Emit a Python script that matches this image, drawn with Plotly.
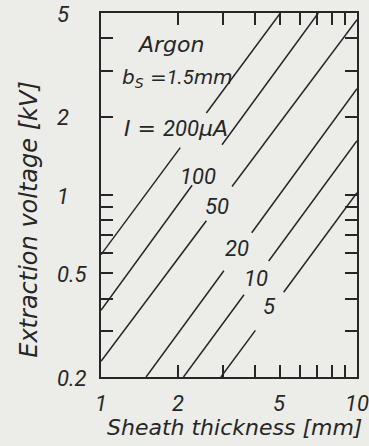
import numpy as np
import plotly.graph_objects as go

# Beam current of each characteristic line (µA)
currents = [200, 100, 50, 20, 10, 5]

# Each line is drawn in two pieces with a gap for its label.
# Lower piece: start/end (sheath thickness in mm, extraction voltage in kV)
lower_start_d = [1.00, 1.00, 1.00, 1.50, 2.10, 2.94]
lower_start_v = [0.59, 0.361, 0.23, 0.20, 0.20, 0.20]
lower_end_d = [2.04, 2.27, 2.58, 3.02, 3.62, 4.01]
lower_end_v = [1.52, 1.09, 0.796, 0.512, 0.414, 0.302]
# Upper piece
upper_start_d = [2.58, 2.97, 3.25, 3.88, 4.52, 5.17]
upper_start_v = [2.065, 1.56, 1.078, 0.716, 0.558, 0.423]
upper_end_d = [5.02, 7.06, 10.0, 10.0, 10.0, 10.0]
upper_end_v = [5.00, 5.00, 4.71, 2.56, 1.616, 1.02]

# Axis ticks
x_ticks = [1, 2, 3, 4, 5, 6, 7, 8, 9, 10]
x_labels = {1: "1", 2: "2", 5: "5", 10: "10"}
y_ticks = [0.2, 0.3, 0.4, 0.5, 0.6, 0.7, 0.8, 0.9, 1, 2, 3, 4, 5]
y_labels = {0.2: "0.2", 0.5: "0.5", 1: "1", 2: "2", 5: "5"}

# Where the current labels sit (thickness mm, voltage kV)
label_pos = {100: (2.40, 1.175), 50: (2.84, 0.90), 20: (3.40, 0.622),
             10: (4.02, 0.477), 5: (4.56, 0.3725)}

INK = "#262626"
BG = "#ecece9"
WORD_FONT = "DejaVu Sans"
NUM_FONT = "Liberation Sans Narrow, Roboto, Liberation Sans"

wfont = dict(family=WORD_FONT, size=22, color=INK, style="italic")
nfont = dict(family=NUM_FONT, size=22, color=INK, style="italic")


def narrow(s):
    return f'<span style="font-family:{NUM_FONT}">{s}</span>'


fig = go.Figure()
for i, cur in enumerate(currents):
    fig.add_trace(go.Scatter(
        x=[lower_start_d[i], lower_end_d[i], None, upper_start_d[i], upper_end_d[i]],
        y=[lower_start_v[i], lower_end_v[i], None, upper_start_v[i], upper_end_v[i]],
        mode="lines", line=dict(color=INK, width=1.5),
        showlegend=False, hoverinfo="skip", name=f"{cur} µA",
    ))

axis_common = dict(
    type="log", showline=True, linecolor=INK, linewidth=2, mirror="ticks",
    ticks="inside", ticklen=12, tickwidth=1.5, tickcolor=INK,
    showgrid=False, zeroline=False, showticklabels=False,
)
fig.update_xaxes(range=[0, 1], tickvals=x_ticks, **axis_common)
fig.update_yaxes(range=[np.log10(0.2), np.log10(5)], tickvals=y_ticks, **axis_common)

ann = []
for v, t in x_labels.items():
    ann.append(dict(x=np.log10(v), xref="x", y=0, yref="paper", yshift=-26,
                    text=t, showarrow=False, xanchor="center", yanchor="middle", font=nfont))
for v, t in y_labels.items():
    ann.append(dict(x=0, xref="paper", xshift=-46, y=np.log10(v), yref="y", yshift=-1,
                    text=t, showarrow=False, xanchor="left", yanchor="middle", font=nfont))

# Axis titles
ann.append(dict(x=0.5, xref="paper", xshift=5, y=0, yref="paper", yshift=-50,
                text="Sheath thickness [mm]", showarrow=False,
                xanchor="center", yanchor="middle", font=wfont))
ann.append(dict(x=0, xref="paper", xshift=-72, y=0.432, yref="paper",
                text="Extraction voltage [kV]", showarrow=False, textangle=-90,
                xanchor="center", yanchor="middle", font=dict(wfont, size=24)))

# Header text inside the plot
ann.append(dict(x=np.log10(1.36), xref="x", y=np.log10(3.78), yref="y",
                text="Argon", showarrow=False, xanchor="left", yanchor="middle", font=wfont))
ann.append(dict(x=np.log10(1.19), xref="x", y=np.log10(2.82), yref="y",
                text=f"b<sub>S</sub> ={narrow('1.5')}mm", showarrow=False, xanchor="left",
                yanchor="middle", font=dict(wfont, size=20)))
ann.append(dict(x=np.log10(1.205), xref="x", y=np.log10(1.797), yref="y",
                text=f"I = {narrow(currents[0])}µA", showarrow=False, xanchor="left",
                yanchor="middle", font=wfont))
for cur, (d, v) in label_pos.items():
    ann.append(dict(x=np.log10(d), xref="x", y=np.log10(v), yref="y",
                    text=str(cur), showarrow=False, xanchor="center",
                    yanchor="middle", font=nfont))

fig.update_layout(
    width=369, height=446,
    margin=dict(l=101, r=10, t=13, b=69),
    paper_bgcolor=BG, plot_bgcolor=BG,
    font=dict(family=WORD_FONT, color=INK),
    annotations=ann, showlegend=False,
)

fig.write_html("out.html")
